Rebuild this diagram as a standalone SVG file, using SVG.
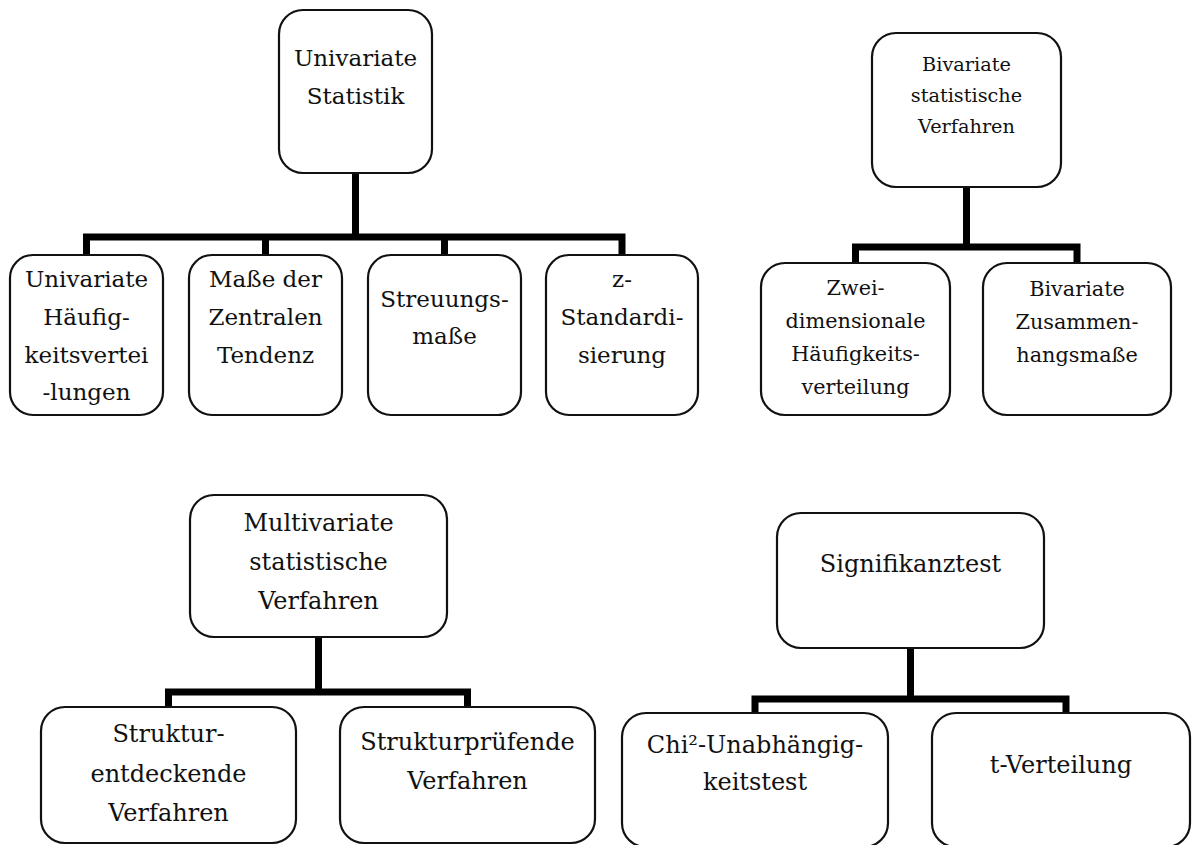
<svg xmlns="http://www.w3.org/2000/svg" width="1192" height="845" viewBox="0 0 1192 845">
<style>
.box{fill:#fff;stroke:#111;stroke-width:2.2}
.con{fill:none;stroke:#000;stroke-width:7;stroke-linejoin:miter;stroke-linecap:butt}
text{font-family:"DejaVu Serif","Liberation Serif",serif;fill:#111;text-anchor:middle}
.t23{font-size:23px}
.t19{font-size:19.3px}
.t21{font-size:20.8px}
.t24{font-size:24px}
</style>
<rect width="1192" height="845" fill="#fff"/>
<g id="connectors">
<path class="con" d="M355.5,173 V237 M86.5,256 V237 H622 V256 M265.5,237 V256 M444.5,237 V256"/>
<path class="con" d="M966.5,187 V247 M855.5,264 V247 H1077 V264"/>
<path class="con" d="M318.5,637 V692 M168.5,708 V692 H467.5 V708"/>
<path class="con" d="M910.5,648 V699 M755,714 V699 H1066 V714"/>
</g>
<g id="univariate">
<rect class="box" x="279" y="10" width="153" height="163" rx="24"/>
<text class="t23" x="355.5" y="66">Univariate</text>
<text class="t23" x="355.5" y="104">Statistik</text>
</g>
<g id="haeufigkeit">
<rect class="box" x="10" y="255" width="153" height="160" rx="23"/>
<text class="t23" x="86.5" y="287">Univariate</text>
<text class="t23" x="86.5" y="325">Häufig-</text>
<text class="t23" x="86.5" y="363">keitsvertei</text>
<text class="t23" x="86.5" y="400">-lungen</text>
</g>
<g id="zentral">
<rect class="box" x="189" y="255" width="153" height="160" rx="23"/>
<text class="t23" x="265.5" y="287">Maße der</text>
<text class="t23" x="265.5" y="325">Zentralen</text>
<text class="t23" x="265.5" y="363">Tendenz</text>
</g>
<g id="streuung">
<rect class="box" x="368" y="255" width="153" height="160" rx="23"/>
<text class="t23" x="444.5" y="307">Streuungs-</text>
<text class="t23" x="444.5" y="344">maße</text>
</g>
<g id="zstand">
<rect class="box" x="546" y="255" width="152" height="160" rx="23"/>
<text class="t23" x="622" y="287">z-</text>
<text class="t23" x="622" y="325">Standardi-</text>
<text class="t23" x="622" y="363">sierung</text>
</g>
<g id="bivariate">
<rect class="box" x="872" y="33" width="189" height="154" rx="24"/>
<text class="t19" x="966.5" y="71">Bivariate</text>
<text class="t19" x="966.5" y="102">statistische</text>
<text class="t19" x="966.5" y="133">Verfahren</text>
</g>
<g id="zweidim">
<rect class="box" x="761" y="263" width="189" height="152" rx="24"/>
<text class="t21" x="855.5" y="295">Zwei-</text>
<text class="t21" x="855.5" y="328">dimensionale</text>
<text class="t21" x="855.5" y="361">Häufigkeits-</text>
<text class="t21" x="855.5" y="394">verteilung</text>
</g>
<g id="zusammenhang">
<rect class="box" x="983" y="263" width="188" height="152" rx="24"/>
<text class="t21" x="1077" y="296">Bivariate</text>
<text class="t21" x="1077" y="329">Zusammen-</text>
<text class="t21" x="1077" y="362">hangsmaße</text>
</g>
<g id="multivariate">
<rect class="box" x="190" y="495" width="257" height="142" rx="24"/>
<text class="t24" x="318.5" y="531">Multivariate</text>
<text class="t24" x="318.5" y="570">statistische</text>
<text class="t24" x="318.5" y="609">Verfahren</text>
</g>
<g id="strukturentdeckend">
<rect class="box" x="41" y="707" width="255" height="136" rx="24"/>
<text class="t24" x="168.5" y="742">Struktur-</text>
<text class="t24" x="168.5" y="782">entdeckende</text>
<text class="t24" x="168.5" y="821">Verfahren</text>
</g>
<g id="strukturpruefend">
<rect class="box" x="340" y="707" width="255" height="136" rx="24"/>
<text class="t24" x="467.5" y="750">Strukturprüfende</text>
<text class="t24" x="467.5" y="789">Verfahren</text>
</g>
<g id="signifikanztest">
<rect class="box" x="777" y="513" width="267" height="135" rx="24"/>
<text class="t24" x="910.5" y="572">Signifikanztest</text>
</g>
<g id="chi2">
<rect class="box" x="622" y="713" width="266" height="134" rx="24"/>
<text class="t24" x="755" y="753">Chi²-Unabhängig-</text>
<text class="t24" x="755" y="790">keitstest</text>
</g>
<g id="tverteilung">
<rect class="box" x="932" y="713" width="258" height="134" rx="24"/>
<text class="t24" x="1061" y="773">t-Verteilung</text>
</g>
</svg>
